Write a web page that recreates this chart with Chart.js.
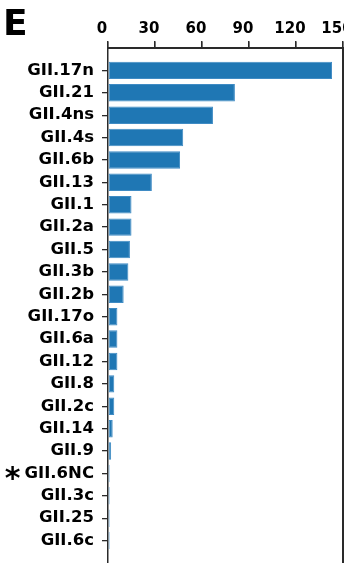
<!DOCTYPE html>
<html>
<head>
<meta charset="utf-8">
<script src="https://cdn.jsdelivr.net/npm/chart.js@4.4.1/dist/chart.umd.min.js"></script>
<style>
  html, body { margin: 0; padding: 0; background: #fff; }
  #panel { position: relative; width: 344px; height: 563px; }
  #panel-letter {
    position: absolute; left: 3px; top: 5px;
    font: bold 36px "DejaVu Sans", sans-serif; line-height: 36px; color: #000;
  }
  canvas { display: block; }
</style>
</head>
<body>
<div id="panel">
  <canvas id="genotypes" width="344" height="563"></canvas>
  <div id="panel-letter">E</div>
</div>
<script>
// genotipos GII, ordenados por numero de secuencias
const categories = [
  "GII.17n", "GII.21", "GII.4ns", "GII.4s", "GII.6b", "GII.13", "GII.1",
  "GII.2a", "GII.5", "GII.3b", "GII.2b", "GII.17o", "GII.6a", "GII.12",
  "GII.8", "GII.2c", "GII.14", "GII.9", "GII.6NC", "GII.3c", "GII.25", "GII.6c",
];
const counts = [143, 81, 67, 48, 46, 28, 15, 15, 14, 13, 10, 6, 6, 6, 4, 4, 3, 2, 1, 1, 1, 1];
const xTicks = [0, 30, 60, 90, 120, 150];
const starred = "GII.6NC";

const AXIS = "#2a2a2a";
const BAR = "#1f77b4";
const FONT = "DejaVu Sans";
const X_TICK_LEN = 6;
const Y_TICK_LEN = 6;
const Y_TICK_PAD = 8;
const Y_FONT_SIZE = 16.5;

// caja alrededor del area (arriba con marcas, derecha) + asterisco del genotipo marcado
const framePlugin = {
  id: "frame",
  afterDraw(chart) {
    const { ctx, chartArea } = chart;
    const xs = chart.scales.x;
    const top = Math.round(chartArea.top);
    const left = Math.round(chartArea.left);
    const right = Math.round(chartArea.right);
    ctx.save();
    ctx.fillStyle = AXIS;
    // borde superior y derecho
    ctx.fillRect(left - 1, top - 1, right - left + 2, 2);
    ctx.fillRect(right - 1, top - 1, 2, chartArea.bottom - top + 1);
    // marcas del eje superior
    xTicks.forEach((v) => {
      const px = Math.round(xs.getPixelForValue(v));
      ctx.fillRect(px - 1, top - 1 - X_TICK_LEN, 1.5, X_TICK_LEN);
    });

    const ys = chart.scales.y;
    const idx = categories.indexOf(starred);
    const rowY = ys.getPixelForValue(idx);
    ctx.font = `bold ${Y_FONT_SIZE}px "${FONT}"`;
    const labelLeft = ys.right - Y_TICK_LEN - Y_TICK_PAD - ctx.measureText(starred).width;
    ctx.font = `bold 30px "${FONT}"`;
    ctx.fillStyle = "#000";
    ctx.textAlign = "right";
    ctx.textBaseline = "alphabetic";
    ctx.fillText("*", labelLeft - 4, rowY + 0.5 * 30);
    ctx.restore();
  },
};

const data = counts.map((v, i) => ({ x: v, y: i }));

// sin relleno extra de etiquetas: el area llega hasta los bordes fijados
const noLabelPadding = (s) => {
  s.paddingLeft = 0;
  s.paddingRight = 0;
  s.paddingTop = 0;
  s.paddingBottom = 0;
};

new Chart(document.getElementById("genotypes"), {
  type: "bar",
  data: {
    datasets: [{
      data,
      backgroundColor: BAR,
      borderColor: "#3f8bc4",
      borderWidth: 1,
      borderSkipped: false,
      barPercentage: 0.78,
      categoryPercentage: 1,
    }],
  },
  options: {
    indexAxis: "y",
    responsive: false,
    animation: false,
    devicePixelRatio: 1,
    layout: { padding: { left: 0, right: 1, top: 0, bottom: 0 } },
    plugins: { legend: { display: false }, tooltip: { enabled: false } },
    scales: {
      x: {
        type: "linear",
        position: "top",
        min: 0,
        max: 150,
        afterBuildTicks: (s) => { s.ticks = xTicks.map((v) => ({ value: v })); },
        afterFit: (s) => { s.height = 48; noLabelPadding(s); },
        ticks: {
          color: "#000",
          font: { family: FONT, size: 15, weight: "bold" },
          padding: 4,
          labelOffset: -6,
          maxRotation: 0,
          autoSkip: false,
        },
        grid: { drawOnChartArea: false, color: AXIS, lineWidth: 1.3, tickLength: X_TICK_LEN },
        border: { display: true, color: AXIS, width: 1.5 },
      },
      y: {
        type: "linear",
        reverse: true,
        offset: false,
        min: -1,
        max: 22,
        afterBuildTicks: (s) => { s.ticks = categories.map((_, i) => ({ value: i })); },
        afterFit: (s) => { s.width = 108; noLabelPadding(s); },
        ticks: {
          color: "#000",
          font: { family: FONT, size: Y_FONT_SIZE, weight: "bold" },
          padding: Y_TICK_PAD,
          autoSkip: false,
          callback: (v) => categories[v],
        },
        grid: { offset: false, drawOnChartArea: false, color: AXIS, lineWidth: 1.3, tickLength: Y_TICK_LEN },
        border: { display: true, color: AXIS, width: 1.5 },
      },
    },
  },
  plugins: [framePlugin],
});
</script>
</body>
</html>
